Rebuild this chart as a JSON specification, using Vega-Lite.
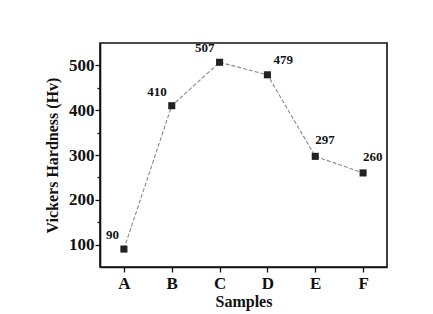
{
  "$schema": "https://vega.github.io/schema/vega-lite/v6.json",
  "width": 287,
  "height": 224,
  "padding": {"left": 44, "top": 42, "right": 10, "bottom": 2},
  "background": "white",
  "config": {
    "font": "Liberation Serif",
    "view": {"stroke": "#111", "strokeWidth": 1.6},
    "text": {"font": "Liberation Serif"},
    "axis": {
      "labelFont": "Liberation Serif",
      "titleFont": "Liberation Serif",
      "labelFontWeight": "bold",
      "titleFontWeight": "bold",
      "labelColor": "#111",
      "titleColor": "#111",
      "domainColor": "#111",
      "tickColor": "#111",
      "domainWidth": 1.6,
      "tickWidth": 1.3,
      "grid": false
    }
  },
  "data": {
    "values": [
      {"sample": "A", "hv": 90},
      {"sample": "B", "hv": 410},
      {"sample": "C", "hv": 507},
      {"sample": "D", "hv": 479},
      {"sample": "E", "hv": 297},
      {"sample": "F", "hv": 260}
    ]
  },
  "encoding": {
    "x": {
      "field": "sample",
      "type": "ordinal",
      "scale": {"type": "point", "padding": 0.5},
      "axis": {
        "title": "Samples",
        "labelAngle": 0,
        "labelFontSize": 17,
        "titleFontSize": 16,
        "tickSize": 5,
        "labelPadding": 3,
        "titlePadding": 2
      }
    },
    "y": {
      "field": "hv",
      "type": "quantitative",
      "scale": {"domain": [50, 550], "nice": false, "zero": false},
      "axis": {
        "title": "Vickers Hardness (Hv)",
        "values": [100, 150, 200, 250, 300, 350, 400, 450, 500],
        "labelExpr": "datum.value % 100 == 0 ? datum.label : ''",
        "labelFontSize": 17,
        "titleFontSize": 16,
        "tickSize": {"condition": {"test": "datum.value % 100 == 0", "value": 5}, "value": 3},
        "labelPadding": 1,
        "titlePadding": 8
      }
    }
  },
  "layer": [
    {
      "mark": {"type": "line", "color": "#8a8a8a", "strokeWidth": 1.1, "strokeDash": [4, 2]}
    },
    {
      "mark": {"type": "square", "color": "#222", "size": 50, "opacity": 1, "filled": true}
    },
    {
      "transform": [{"filter": "indexof(['A','B','C'], datum.sample) >= 0"}],
      "mark": {"type": "text", "font": "Liberation Serif", "align": "right", "dx": -5, "dy": -14, "fontSize": 13, "fontWeight": "bold", "color": "#111"},
      "encoding": {"text": {"field": "hv", "type": "quantitative"}}
    },
    {
      "transform": [{"filter": "datum.sample == 'D'"}],
      "mark": {"type": "text", "font": "Liberation Serif", "align": "left", "dx": 6, "dy": -15, "fontSize": 13, "fontWeight": "bold", "color": "#111"},
      "encoding": {"text": {"field": "hv", "type": "quantitative"}}
    },
    {
      "transform": [{"filter": "indexof(['E','F'], datum.sample) >= 0"}],
      "mark": {"type": "text", "font": "Liberation Serif", "align": "left", "dx": 0, "dy": -16, "fontSize": 13, "fontWeight": "bold", "color": "#111"},
      "encoding": {"text": {"field": "hv", "type": "quantitative"}}
    }
  ]
}
